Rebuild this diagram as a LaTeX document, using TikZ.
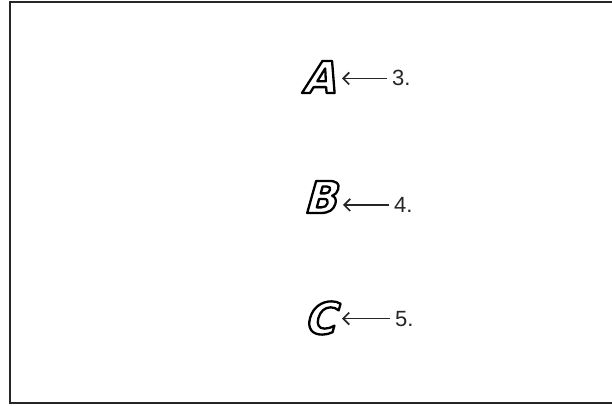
\documentclass[tikz,border=0pt]{standalone}
\usepackage{fontspec}
\setmainfont{Liberation Sans}
\newfontfamily\letterfont{DejaVu Sans Bold}[FakeSlant=0.28,FakeStretch=0.97]
\usetikzlibrary{arrows.meta}
\newcommand\outlinetext[1]{\special{pdf:literal direct 1 Tr 2.3 w 1 j}#1\special{pdf:literal direct 0 Tr 1 w 0 j}}
\begin{document}
\begin{tikzpicture}[x=1pt,y=1pt,
  letter/.style={font=\letterfont\fontsize{44}{44}\selectfont, inner sep=0pt, anchor=base east},
  num/.style={font=\fontsize{22}{22}\selectfont, inner sep=0pt, anchor=base west, text=black!85},
  pointer/.style={draw=black!85, line width=1.7pt, -{Straight Barb[length=6pt,width=12pt]}, shorten >=7pt, shorten <=5pt},
  frame/.style={draw=black!85, line width=2pt}]
\useasboundingbox (0,0) rectangle (612,405);
\draw[frame] (612,402.5) -- (10,402.5) -- (10,2.5) -- (612,2.5);
\node[letter] (A) at (335,312) {\outlinetext{A}};
\node[letter] (B) at (336,192) {\outlinetext{B}};
\node[letter] (C) at (335,71) {\outlinetext{C}};
\node[num] (n3) at (392,319) {3.};
\node[num] (n4) at (394,192.5) {4.};
\node[num] (n5) at (395,79) {5.};
\draw[pointer] (n3.west) -- (n3.west -| A.east);
\draw[pointer] (n4.west) -- (n4.west -| B.east);
\draw[pointer] (n5.west) -- (n5.west -| C.east);
\end{tikzpicture}
\end{document}
